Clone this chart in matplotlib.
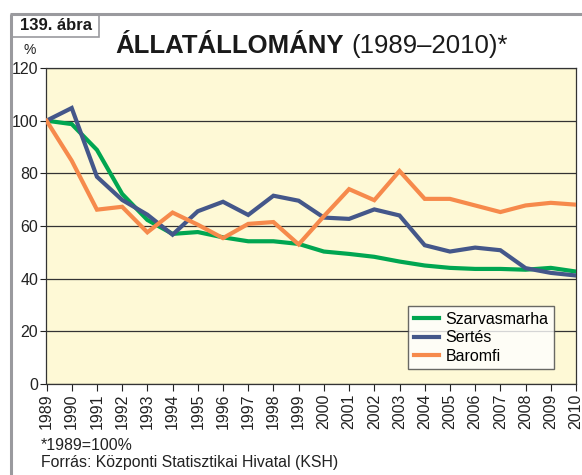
import matplotlib
matplotlib.use('Agg')
import matplotlib.pyplot as plt
from matplotlib.patches import Rectangle
from matplotlib.lines import Line2D

plt.rcParams['font.family'] = ['Liberation Sans', 'DejaVu Sans']

## Data (1989 = 100%)

years = list(range(1989, 2011))
szarvasmarha = [100, 98.7, 88.9, 72.2, 62.3, 57.0, 57.7, 55.7, 54.2, 54.2, 53.2,
                50.3, 49.4, 48.3, 46.5, 45.0, 44.1, 43.7, 43.7, 43.4, 44.1, 42.7]
sertes = [100, 104.8, 78.7, 69.9, 64.3, 56.7, 65.6, 69.2, 64.2, 71.5, 69.6,
          63.2, 62.7, 66.3, 64.0, 52.7, 50.3, 51.8, 50.8, 44.0, 42.2, 41.2]
baromfi = [100, 84.8, 66.2, 67.3, 57.6, 65.1, 60.5, 55.4, 60.8, 61.5, 53.0,
           63.7, 74.0, 69.8, 80.9, 70.3, 70.3, 67.8, 65.3, 67.8, 68.8, 68.1]
series_names = ['Szarvasmarha', 'Sertés', 'Baromfi']
series_colors = ['#00a651', '#44578a', '#f68a4c']

## Plotting

W, H = 582, 475
fig = plt.figure(figsize=(W / 100, H / 100), dpi=100)
fig.patch.set_facecolor('white')

# gray frame on top and left
fig.add_artist(Line2D([11 / W, 11 / W], [0, 1 - 14 / H], transform=fig.transFigure,
                      color='#9a9a9e', lw=2.2, solid_capstyle='butt'))
fig.add_artist(Line2D([9.5 / W, 1], [1 - 14 / H, 1 - 14 / H], transform=fig.transFigure,
                      color='#9a9a9e', lw=2.2, solid_capstyle='butt'))
# figure number box
fig.add_artist(Rectangle((12 / W, 1 - 37 / H), 87 / W, 22 / H, transform=fig.transFigure,
                         facecolor='white', edgecolor='#9a9a9e', lw=1.2))
fig.text(55.5 / W, 1 - 26 / H, '139. ábra', ha='center', va='center',
         fontsize=12, fontweight='bold', color='#1a1a1a')

ax = fig.add_axes([46.5 / W, 1 - 384 / H, (576 - 46.5) / W, (384 - 68) / H])
ax.set_facecolor('#fef9d6')

for vals, name, col in zip([szarvasmarha, sertes, baromfi], series_names, series_colors):
    ax.plot(years, vals, color=col, lw=3, label=name, solid_joinstyle='miter', zorder=3)

ax.set_xlim(1989, 2010)
ax.set_ylim(0, 120)
ax.set_yticks(range(0, 121, 20))
ax.set_xticks(years)
ax.set_xticklabels([str(y) for y in years], rotation=90)
ax.tick_params(axis='both', labelsize=11.5, colors='#222222', length=4, width=0.8, pad=2)
ax.tick_params(axis='x', length=5)
ax.yaxis.grid(True, color='#333333', lw=0.9)
ax.set_axisbelow(True)
for s in ax.spines.values():
    s.set_color('#333333')
    s.set_linewidth(0.9)

leg = ax.legend(loc='upper left', bbox_to_anchor=((408 - 46.5) / (576 - 46.5), (384 - 306) / (384 - 68)),
                fontsize=11.5, frameon=True, fancybox=False, edgecolor='#444444',
                handlelength=1.6, handletextpad=0.4, labelspacing=0.22, borderpad=0.35,
                borderaxespad=0)
leg.get_frame().set_linewidth(1.0)

fig.text(30 / W, 1 - 50 / H, '%', ha='center', va='center', fontsize=10, color='#222222')

# title: bold part + regular part
t1 = fig.text(115 / W, 1 - 53 / H, 'ÁLLATÁLLOMÁNY', fontsize=18.5, fontweight='bold',
              color='#1a1a1a', va='baseline')
fig.canvas.draw()
bb = t1.get_window_extent()
fig.text(bb.x1 / W + 8 / W, 1 - 53 / H, '(1989–2010)*', fontsize=18.5,
         color='#1a1a1a', va='baseline')

fig.text(41 / W, 1 - 445 / H, '*1989=100%', fontsize=11.4, color='#222222', va='center')
fig.text(41 / W, 1 - 463 / H, 'Forrás: Központi Statisztikai Hivatal (KSH)', fontsize=11.4,
         color='#222222', va='center')

fig.savefig('out.png', dpi=100)
